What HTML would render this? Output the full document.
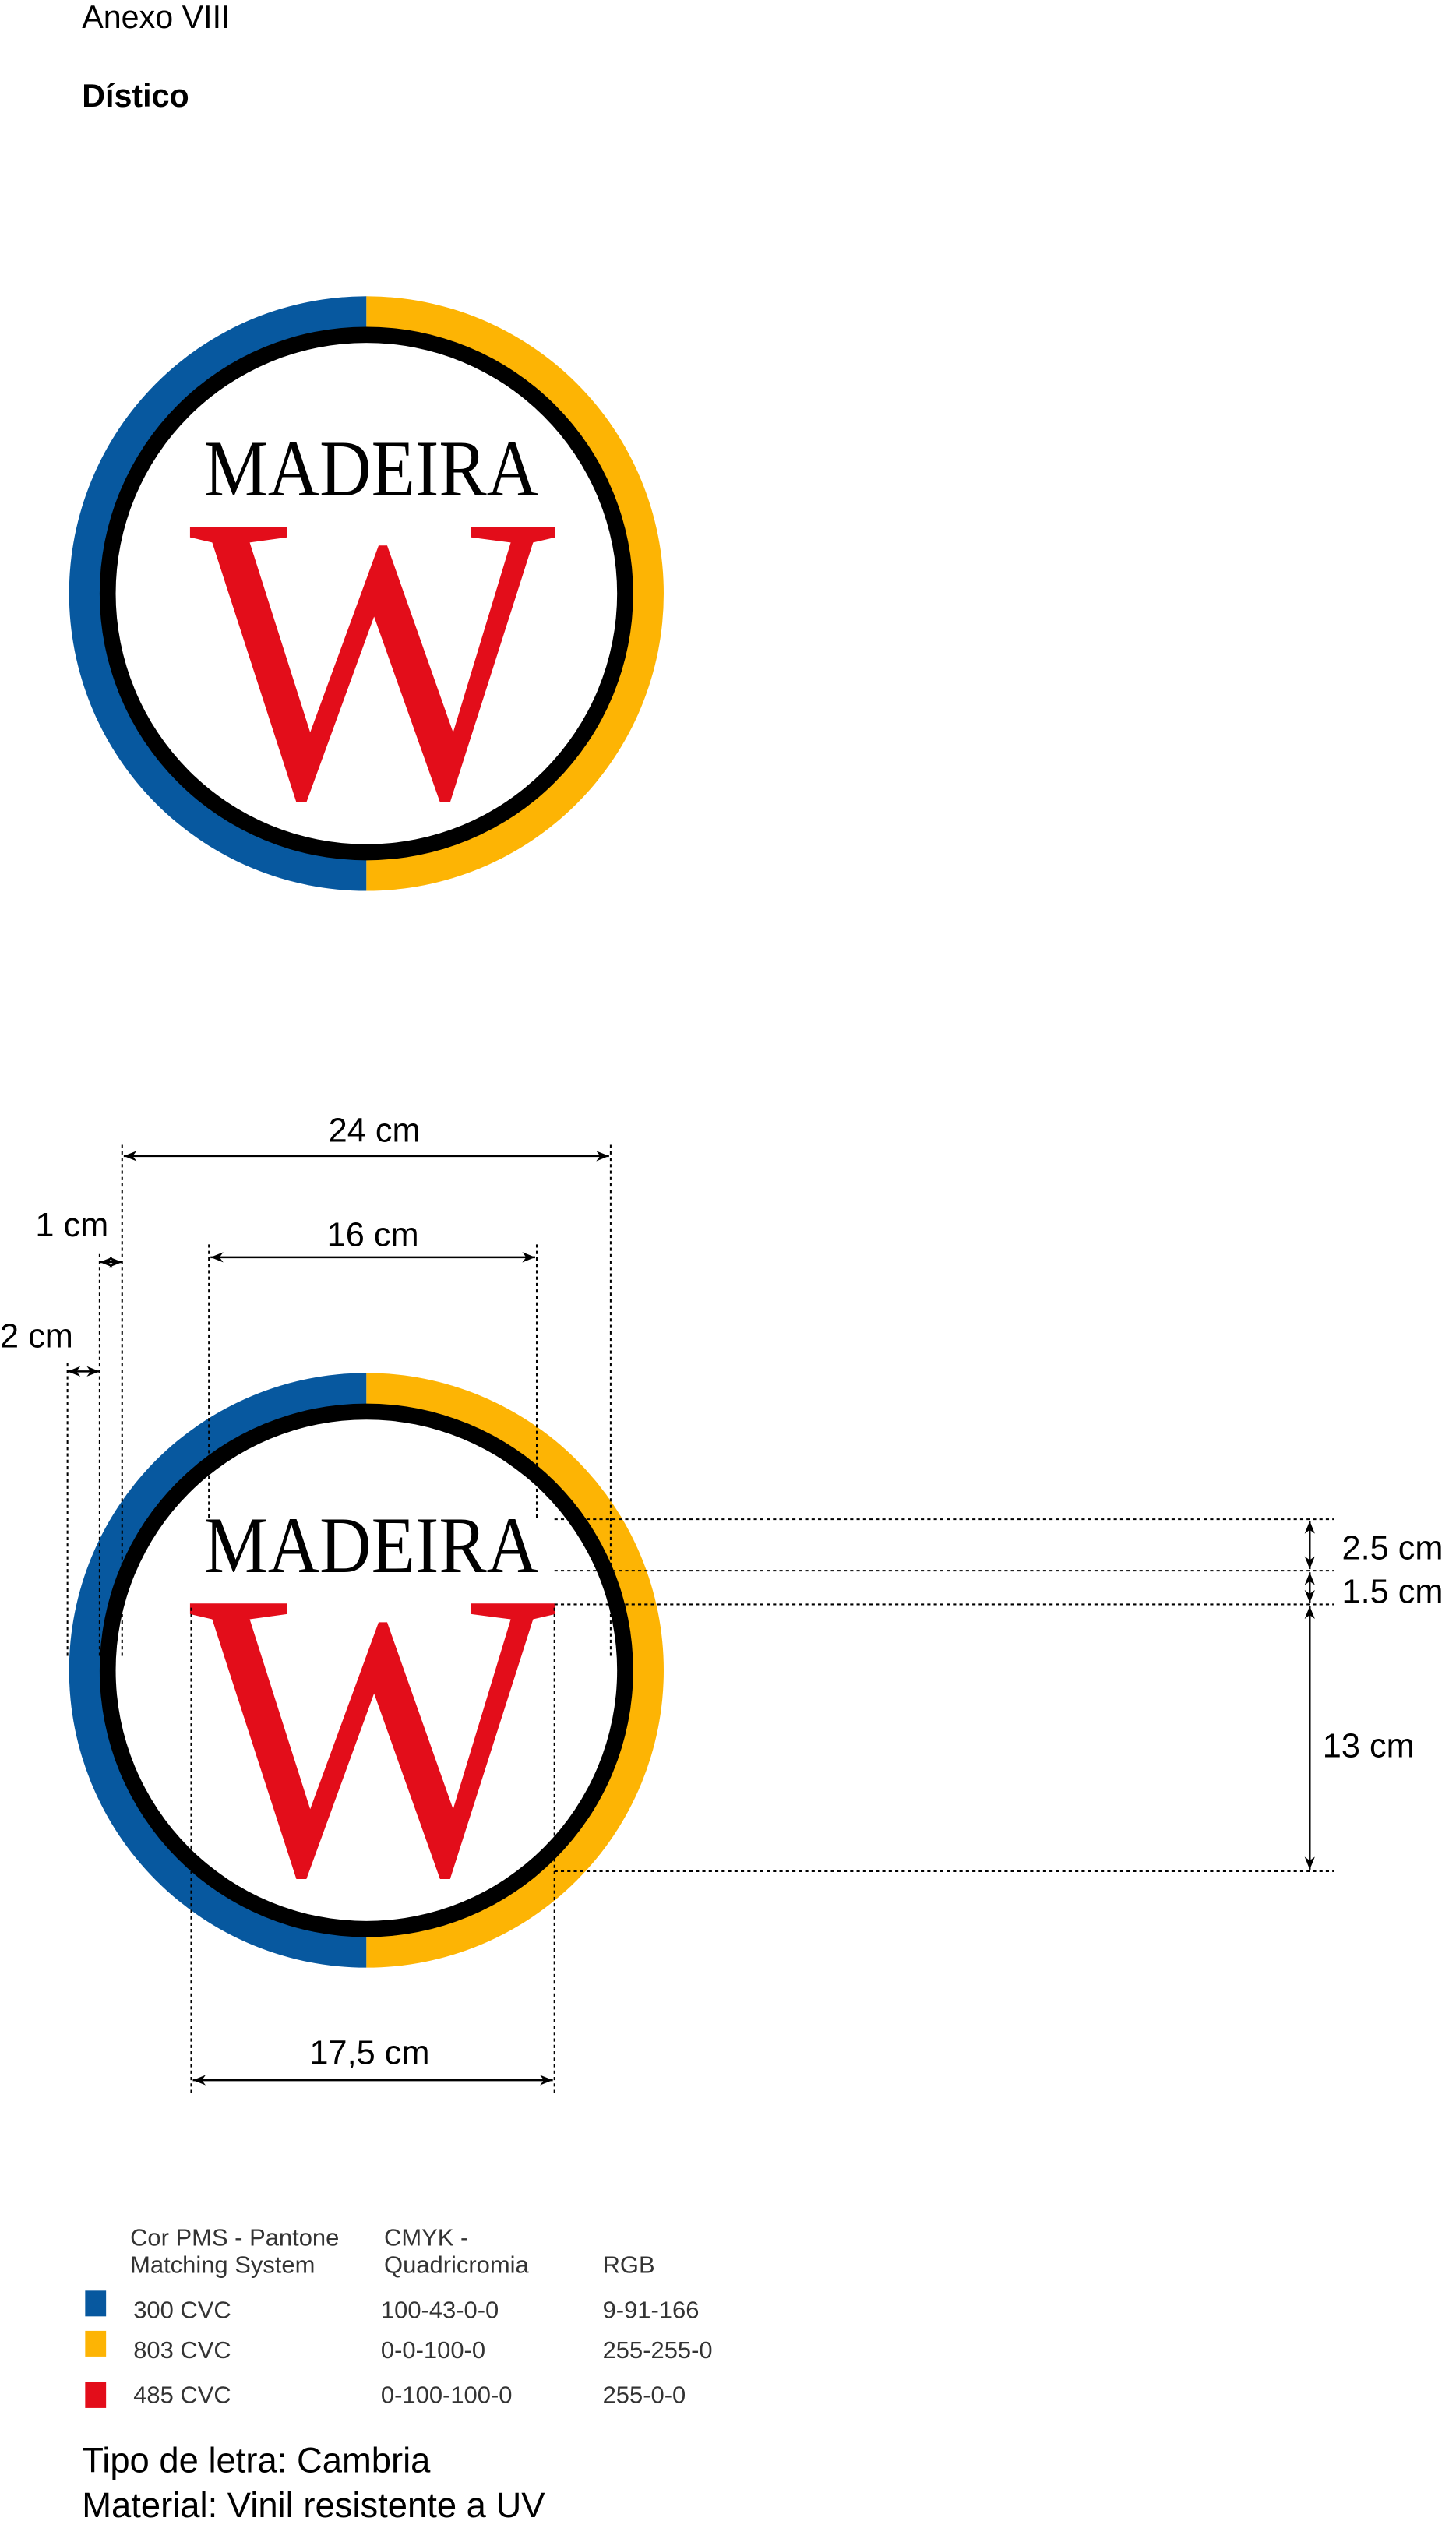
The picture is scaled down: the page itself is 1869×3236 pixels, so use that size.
<!DOCTYPE html>
<html><head><meta charset="utf-8"><style>
html,body{margin:0;padding:0;background:#fff;}
svg{display:block;}
.d{font-family:"Liberation Sans",sans-serif;font-size:21px;fill:#000;}
.n{font-family:"Liberation Sans Narrow","Liberation Sans",sans-serif;font-size:15px;fill:#333;}
.dot{stroke:#000;stroke-width:1;stroke-dasharray:2 2;fill:none;}
.ar{stroke:#000;stroke-width:1.2;fill:none;}
</style></head><body>
<svg width="1869" height="3236" viewBox="0 0 906 1568" xmlns="http://www.w3.org/2000/svg">
<defs>
<marker id="a" viewBox="0 0 10 10" refX="10" refY="5" markerWidth="8" markerHeight="8" orient="auto-start-reverse" markerUnits="userSpaceOnUse"><path d="M0,1 L10,5 L0,9 L3,5 z" fill="#000"/></marker>
<g id="logo">
<path d="M228,-185 A185,185 0 0 0 228,185 Z" transform="translate(-228,0)" fill="#09589e"/>
</g>
</defs>
<text x="51" y="17" font-family="Liberation Sans,sans-serif" font-size="20">Anexo VIII</text>
<text x="51" y="66" font-family="Liberation Sans,sans-serif" font-size="20" font-weight="bold">Dístico</text>

<!-- top logo -->
<g transform="translate(228,369)">
<path d="M0,-185 A185,185 0 0 0 0,185 Z" fill="#07589f"/>
<path d="M0,-185 A185,185 0 0 1 0,185 Z" fill="#fdb404"/>
<circle r="166" fill="#000"/><circle r="156" fill="#fff"/>
<text x="3" y="-61" text-anchor="middle" font-family="Liberation Serif,serif" font-size="50" textLength="208" lengthAdjust="spacingAndGlyphs">MADEIRA</text>
<text x="4" y="126" text-anchor="middle" font-family="Liberation Serif,serif" font-size="256" fill="#e30d1a" textLength="228" lengthAdjust="spacingAndGlyphs">W</text>
</g>

<!-- bottom logo -->
<g transform="translate(228,1039)">
<path d="M0,-185 A185,185 0 0 0 0,185 Z" fill="#07589f"/>
<path d="M0,-185 A185,185 0 0 1 0,185 Z" fill="#fdb404"/>
<circle r="166" fill="#000"/><circle r="156" fill="#fff"/>
<text x="3" y="-61" text-anchor="middle" font-family="Liberation Serif,serif" font-size="50" textLength="208" lengthAdjust="spacingAndGlyphs">MADEIRA</text>
<text x="4" y="126" text-anchor="middle" font-family="Liberation Serif,serif" font-size="256" fill="#e30d1a" textLength="228" lengthAdjust="spacingAndGlyphs">W</text>
</g>

<!-- dimension guides -->
<line class="dot" x1="76" y1="712" x2="76" y2="1032"/>
<line class="dot" x1="380" y1="712" x2="380" y2="1032"/>
<line class="dot" x1="130" y1="774" x2="130" y2="946"/>
<line class="dot" x1="334" y1="774" x2="334" y2="946"/>
<line class="dot" x1="62" y1="780" x2="62" y2="1032"/>
<line class="dot" x1="42" y1="848" x2="42" y2="1032"/>
<line class="dot" x1="119" y1="1000" x2="119" y2="1302"/>
<line class="dot" x1="345" y1="1000" x2="345" y2="1302"/>
<line class="dot" x1="345" y1="945" x2="830" y2="945"/>
<line class="dot" x1="345" y1="977" x2="830" y2="977"/>
<line class="dot" x1="345" y1="998" x2="830" y2="998"/>
<line class="dot" x1="345" y1="1164" x2="830" y2="1164"/>

<line class="ar" x1="77" y1="719" x2="379" y2="719" marker-start="url(#a)" marker-end="url(#a)"/>
<text class="d" x="233" y="710" text-anchor="middle">24 cm</text>
<line class="ar" x1="131" y1="782" x2="333" y2="782" marker-start="url(#a)" marker-end="url(#a)"/>
<text class="d" x="232" y="775" text-anchor="middle">16 cm</text>
<line class="ar" x1="62" y1="785" x2="76" y2="785" marker-start="url(#a)" marker-end="url(#a)"/>
<text class="d" x="22" y="769">1 cm</text>
<line class="ar" x1="42" y1="853" x2="62" y2="853" marker-start="url(#a)" marker-end="url(#a)"/>
<text class="d" x="0" y="838">2 cm</text>
<line class="ar" x1="815" y1="946" x2="815" y2="976" marker-start="url(#a)" marker-end="url(#a)"/>
<text class="d" x="835" y="970">2.5 cm</text>
<line class="ar" x1="815" y1="978" x2="815" y2="997" marker-start="url(#a)" marker-end="url(#a)"/>
<text class="d" x="835" y="997">1.5 cm</text>
<line class="ar" x1="815" y1="999" x2="815" y2="1163" marker-start="url(#a)" marker-end="url(#a)"/>
<text class="d" x="823" y="1093">13 cm</text>
<line class="ar" x1="120" y1="1294" x2="344" y2="1294" marker-start="url(#a)" marker-end="url(#a)"/>
<text class="d" x="230" y="1284" text-anchor="middle">17,5 cm</text>

<!-- legend -->
<text class="n" x="81" y="1397">Cor PMS - Pantone</text>
<text class="n" x="81" y="1414">Matching System</text>
<text class="n" x="239" y="1397">CMYK -</text>
<text class="n" x="239" y="1414">Quadricromia</text>
<text class="n" x="375" y="1414">RGB</text>
<rect x="53" y="1425" width="13" height="16" fill="#07589f"/>
<rect x="53" y="1450" width="13" height="16" fill="#fdb404"/>
<rect x="53" y="1482" width="13" height="16" fill="#e30d1a"/>
<text class="n" x="83" y="1442">300 CVC</text><text class="n" x="237" y="1442">100-43-0-0</text><text class="n" x="375" y="1442">9-91-166</text>
<text class="n" x="83" y="1467">803 CVC</text><text class="n" x="237" y="1467">0-0-100-0</text><text class="n" x="375" y="1467">255-255-0</text>
<text class="n" x="83" y="1495">485 CVC</text><text class="n" x="237" y="1495">0-100-100-0</text><text class="n" x="375" y="1495">255-0-0</text>
<text x="51" y="1538" font-family="Liberation Sans Narrow,Liberation Sans,sans-serif" font-size="22">Tipo de letra: Cambria</text>
<text x="51" y="1566" font-family="Liberation Sans Narrow,Liberation Sans,sans-serif" font-size="22">Material: Vinil resistente a UV</text>
</svg>
</body></html>
